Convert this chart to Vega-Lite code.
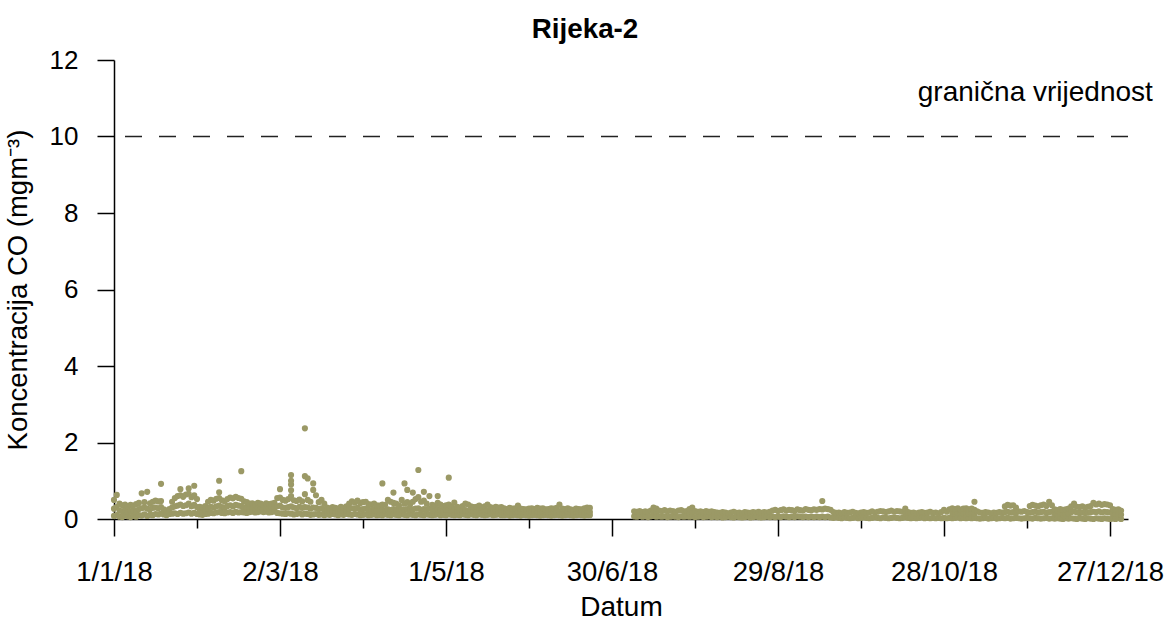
{
"$schema":"https://vega.github.io/schema/vega-lite/v6.json",
"width":1014,"height":459,
"autosize":{"type":"none"},
"padding":{"left":114,"top":60,"right":40,"bottom":104},
"background":"white",
"title":{"text":"Rijeka-2","font":"Liberation Sans","fontSize":27.8,"fontWeight":"bold","color":"black","anchor":"middle","frame":"group","dx":-36,"baseline":"alphabetic","offset":-19},
"config":{"view":{"stroke":null},"font":"Liberation Sans"},
"layer":[
{"data":{"values":[{"v":10}]},
 "mark":{"type":"rule","color":"#222222","strokeWidth":1.6,"strokeDash":[17,17]},
 "encoding":{"y":{"field":"v","type":"quantitative"}}},
{"data":{"values":[{"d":"2018-11-30","v":11.15,"label":"granična vrijednost"}]},
 "mark":{"type":"text","font":"Liberation Sans","fontSize":28,"color":"black","align":"center","baseline":"middle"},
 "encoding":{"x":{"field":"d","type":"temporal"},"y":{"field":"v","type":"quantitative"},"text":{"field":"label"}}},
{"data":{"values":[
{"d":"2018-01-01","v":0.08},{"d":"2018-01-01","v":0.27},{"d":"2018-01-01","v":0.50},
{"d":"2018-01-02","v":0.10},{"d":"2018-01-02","v":0.32},{"d":"2018-01-02","v":0.63},
{"d":"2018-01-03","v":0.06},{"d":"2018-01-03","v":0.22},{"d":"2018-01-03","v":0.40},
{"d":"2018-01-04","v":0.05},{"d":"2018-01-04","v":0.20},{"d":"2018-01-04","v":0.36},
{"d":"2018-01-05","v":0.09},{"d":"2018-01-05","v":0.24},{"d":"2018-01-05","v":0.38},
{"d":"2018-01-06","v":0.07},{"d":"2018-01-06","v":0.19},{"d":"2018-01-06","v":0.33},
{"d":"2018-01-07","v":0.05},{"d":"2018-01-07","v":0.21},{"d":"2018-01-07","v":0.37},
{"d":"2018-01-08","v":0.08},{"d":"2018-01-08","v":0.23},{"d":"2018-01-08","v":0.35},
{"d":"2018-01-09","v":0.06},{"d":"2018-01-09","v":0.18},{"d":"2018-01-09","v":0.39},
{"d":"2018-01-10","v":0.10},{"d":"2018-01-10","v":0.26},{"d":"2018-01-10","v":0.42},
{"d":"2018-01-11","v":0.09},{"d":"2018-01-11","v":0.28},{"d":"2018-01-11","v":0.67},
{"d":"2018-01-12","v":0.12},{"d":"2018-01-12","v":0.30},{"d":"2018-01-12","v":0.44},
{"d":"2018-01-13","v":0.08},{"d":"2018-01-13","v":0.27},{"d":"2018-01-13","v":0.71},
{"d":"2018-01-14","v":0.11},{"d":"2018-01-14","v":0.25},{"d":"2018-01-14","v":0.41},
{"d":"2018-01-15","v":0.10},{"d":"2018-01-15","v":0.29},{"d":"2018-01-15","v":0.45},
{"d":"2018-01-16","v":0.13},{"d":"2018-01-16","v":0.30},{"d":"2018-01-16","v":0.48},
{"d":"2018-01-17","v":0.12},{"d":"2018-01-17","v":0.28},{"d":"2018-01-17","v":0.46},
{"d":"2018-01-18","v":0.14},{"d":"2018-01-18","v":0.31},{"d":"2018-01-18","v":0.47},{"d":"2018-01-18","v":0.92},
{"d":"2018-01-19","v":0.12},{"d":"2018-01-19","v":0.25},
{"d":"2018-01-20","v":0.10},{"d":"2018-01-20","v":0.22},
{"d":"2018-01-21","v":0.13},{"d":"2018-01-21","v":0.26},
{"d":"2018-01-22","v":0.14},{"d":"2018-01-22","v":0.30},{"d":"2018-01-22","v":0.45},
{"d":"2018-01-23","v":0.15},{"d":"2018-01-23","v":0.33},{"d":"2018-01-23","v":0.55},
{"d":"2018-01-24","v":0.13},{"d":"2018-01-24","v":0.35},{"d":"2018-01-24","v":0.60},
{"d":"2018-01-25","v":0.16},{"d":"2018-01-25","v":0.38},{"d":"2018-01-25","v":0.62},{"d":"2018-01-25","v":0.78},
{"d":"2018-01-26","v":0.14},{"d":"2018-01-26","v":0.34},{"d":"2018-01-26","v":0.58},
{"d":"2018-01-27","v":0.15},{"d":"2018-01-27","v":0.36},{"d":"2018-01-27","v":0.64},
{"d":"2018-01-28","v":0.17},{"d":"2018-01-28","v":0.40},{"d":"2018-01-28","v":0.66},{"d":"2018-01-28","v":0.80},
{"d":"2018-01-29","v":0.14},{"d":"2018-01-29","v":0.33},{"d":"2018-01-29","v":0.57},
{"d":"2018-01-30","v":0.16},{"d":"2018-01-30","v":0.37},{"d":"2018-01-30","v":0.62},{"d":"2018-01-30","v":0.87},
{"d":"2018-01-31","v":0.13},{"d":"2018-01-31","v":0.31},{"d":"2018-01-31","v":0.52},
{"d":"2018-02-01","v":0.12},{"d":"2018-02-01","v":0.22},{"d":"2018-02-01","v":0.32},
{"d":"2018-02-02","v":0.11},{"d":"2018-02-02","v":0.20},{"d":"2018-02-02","v":0.30},
{"d":"2018-02-03","v":0.13},{"d":"2018-02-03","v":0.23},{"d":"2018-02-03","v":0.34},
{"d":"2018-02-04","v":0.14},{"d":"2018-02-04","v":0.28},{"d":"2018-02-04","v":0.45},
{"d":"2018-02-05","v":0.16},{"d":"2018-02-05","v":0.32},{"d":"2018-02-05","v":0.50},
{"d":"2018-02-06","v":0.15},{"d":"2018-02-06","v":0.30},{"d":"2018-02-06","v":0.48},
{"d":"2018-02-07","v":0.17},{"d":"2018-02-07","v":0.33},{"d":"2018-02-07","v":0.53},
{"d":"2018-02-08","v":0.18},{"d":"2018-02-08","v":0.35},{"d":"2018-02-08","v":0.55},{"d":"2018-02-08","v":0.70},{"d":"2018-02-08","v":1.00},
{"d":"2018-02-09","v":0.16},{"d":"2018-02-09","v":0.31},{"d":"2018-02-09","v":0.49},
{"d":"2018-02-10","v":0.15},{"d":"2018-02-10","v":0.29},{"d":"2018-02-10","v":0.46},
{"d":"2018-02-11","v":0.17},{"d":"2018-02-11","v":0.34},{"d":"2018-02-11","v":0.52},
{"d":"2018-02-12","v":0.18},{"d":"2018-02-12","v":0.36},{"d":"2018-02-12","v":0.56},
{"d":"2018-02-13","v":0.16},{"d":"2018-02-13","v":0.33},{"d":"2018-02-13","v":0.54},
{"d":"2018-02-14","v":0.19},{"d":"2018-02-14","v":0.37},{"d":"2018-02-14","v":0.58},
{"d":"2018-02-15","v":0.17},{"d":"2018-02-15","v":0.35},{"d":"2018-02-15","v":0.55},
{"d":"2018-02-16","v":0.18},{"d":"2018-02-16","v":0.34},{"d":"2018-02-16","v":0.53},{"d":"2018-02-16","v":1.25},
{"d":"2018-02-17","v":0.17},{"d":"2018-02-17","v":0.30},{"d":"2018-02-17","v":0.46},
{"d":"2018-02-18","v":0.16},{"d":"2018-02-18","v":0.29},{"d":"2018-02-18","v":0.44},
{"d":"2018-02-19","v":0.18},{"d":"2018-02-19","v":0.28},{"d":"2018-02-19","v":0.40},
{"d":"2018-02-20","v":0.19},{"d":"2018-02-20","v":0.30},{"d":"2018-02-20","v":0.41},
{"d":"2018-02-21","v":0.17},{"d":"2018-02-21","v":0.28},{"d":"2018-02-21","v":0.38},
{"d":"2018-02-22","v":0.18},{"d":"2018-02-22","v":0.29},{"d":"2018-02-22","v":0.42},
{"d":"2018-02-23","v":0.20},{"d":"2018-02-23","v":0.31},{"d":"2018-02-23","v":0.40},
{"d":"2018-02-24","v":0.18},{"d":"2018-02-24","v":0.27},{"d":"2018-02-24","v":0.37},
{"d":"2018-02-25","v":0.19},{"d":"2018-02-25","v":0.30},{"d":"2018-02-25","v":0.41},
{"d":"2018-02-26","v":0.17},{"d":"2018-02-26","v":0.28},{"d":"2018-02-26","v":0.39},
{"d":"2018-02-27","v":0.18},{"d":"2018-02-27","v":0.29},{"d":"2018-02-27","v":0.40},
{"d":"2018-02-28","v":0.20},{"d":"2018-02-28","v":0.31},{"d":"2018-02-28","v":0.42},
{"d":"2018-03-01","v":0.16},{"d":"2018-03-01","v":0.33},{"d":"2018-03-01","v":0.55},
{"d":"2018-03-02","v":0.15},{"d":"2018-03-02","v":0.35},{"d":"2018-03-02","v":0.56},{"d":"2018-03-02","v":0.78},
{"d":"2018-03-03","v":0.14},{"d":"2018-03-03","v":0.30},{"d":"2018-03-03","v":0.50},
{"d":"2018-03-04","v":0.13},{"d":"2018-03-04","v":0.29},{"d":"2018-03-04","v":0.48},
{"d":"2018-03-05","v":0.15},{"d":"2018-03-05","v":0.31},{"d":"2018-03-05","v":0.52},
{"d":"2018-03-06","v":0.14},{"d":"2018-03-06","v":0.33},{"d":"2018-03-06","v":0.60},{"d":"2018-03-06","v":0.75},{"d":"2018-03-06","v":0.90},{"d":"2018-03-06","v":1.00},{"d":"2018-03-06","v":1.15},
{"d":"2018-03-07","v":0.12},{"d":"2018-03-07","v":0.30},{"d":"2018-03-07","v":0.49},
{"d":"2018-03-08","v":0.13},{"d":"2018-03-08","v":0.28},{"d":"2018-03-08","v":0.47},
{"d":"2018-03-09","v":0.15},{"d":"2018-03-09","v":0.32},{"d":"2018-03-09","v":0.51},
{"d":"2018-03-10","v":0.12},{"d":"2018-03-10","v":0.29},{"d":"2018-03-10","v":0.46},
{"d":"2018-03-11","v":0.14},{"d":"2018-03-11","v":0.31},{"d":"2018-03-11","v":0.65},{"d":"2018-03-11","v":1.12},{"d":"2018-03-11","v":2.37},
{"d":"2018-03-12","v":0.13},{"d":"2018-03-12","v":0.30},{"d":"2018-03-12","v":0.50},{"d":"2018-03-12","v":1.06},
{"d":"2018-03-13","v":0.11},{"d":"2018-03-13","v":0.27},{"d":"2018-03-13","v":0.45},
{"d":"2018-03-14","v":0.12},{"d":"2018-03-14","v":0.30},{"d":"2018-03-14","v":0.76},{"d":"2018-03-14","v":0.93},
{"d":"2018-03-15","v":0.13},{"d":"2018-03-15","v":0.29},{"d":"2018-03-15","v":0.62},
{"d":"2018-03-16","v":0.11},{"d":"2018-03-16","v":0.26},{"d":"2018-03-16","v":0.44},
{"d":"2018-03-17","v":0.12},{"d":"2018-03-17","v":0.28},{"d":"2018-03-17","v":0.50},
{"d":"2018-03-18","v":0.10},{"d":"2018-03-18","v":0.24},{"d":"2018-03-18","v":0.40},
{"d":"2018-03-19","v":0.12},{"d":"2018-03-19","v":0.21},{"d":"2018-03-19","v":0.30},
{"d":"2018-03-20","v":0.11},{"d":"2018-03-20","v":0.20},{"d":"2018-03-20","v":0.28},
{"d":"2018-03-21","v":0.13},{"d":"2018-03-21","v":0.22},{"d":"2018-03-21","v":0.31},
{"d":"2018-03-22","v":0.12},{"d":"2018-03-22","v":0.21},{"d":"2018-03-22","v":0.29},
{"d":"2018-03-23","v":0.10},{"d":"2018-03-23","v":0.19},{"d":"2018-03-23","v":0.27},
{"d":"2018-03-24","v":0.12},{"d":"2018-03-24","v":0.22},{"d":"2018-03-24","v":0.32},
{"d":"2018-03-25","v":0.11},{"d":"2018-03-25","v":0.20},{"d":"2018-03-25","v":0.29},
{"d":"2018-03-26","v":0.13},{"d":"2018-03-26","v":0.23},{"d":"2018-03-26","v":0.33},
{"d":"2018-03-27","v":0.12},{"d":"2018-03-27","v":0.26},{"d":"2018-03-27","v":0.40},
{"d":"2018-03-28","v":0.11},{"d":"2018-03-28","v":0.28},{"d":"2018-03-28","v":0.46},
{"d":"2018-03-29","v":0.13},{"d":"2018-03-29","v":0.27},{"d":"2018-03-29","v":0.43},
{"d":"2018-03-30","v":0.12},{"d":"2018-03-30","v":0.29},{"d":"2018-03-30","v":0.48},
{"d":"2018-03-31","v":0.10},{"d":"2018-03-31","v":0.25},{"d":"2018-03-31","v":0.42},
{"d":"2018-04-01","v":0.11},{"d":"2018-04-01","v":0.26},{"d":"2018-04-01","v":0.44},
{"d":"2018-04-02","v":0.12},{"d":"2018-04-02","v":0.27},{"d":"2018-04-02","v":0.45},
{"d":"2018-04-03","v":0.10},{"d":"2018-04-03","v":0.24},{"d":"2018-04-03","v":0.39},
{"d":"2018-04-04","v":0.11},{"d":"2018-04-04","v":0.23},{"d":"2018-04-04","v":0.38},
{"d":"2018-04-05","v":0.12},{"d":"2018-04-05","v":0.25},{"d":"2018-04-05","v":0.40},
{"d":"2018-04-06","v":0.10},{"d":"2018-04-06","v":0.22},{"d":"2018-04-06","v":0.36},
{"d":"2018-04-07","v":0.11},{"d":"2018-04-07","v":0.23},{"d":"2018-04-07","v":0.35},
{"d":"2018-04-08","v":0.10},{"d":"2018-04-08","v":0.24},{"d":"2018-04-08","v":0.38},{"d":"2018-04-08","v":0.93},
{"d":"2018-04-09","v":0.12},{"d":"2018-04-09","v":0.22},{"d":"2018-04-09","v":0.37},
{"d":"2018-04-10","v":0.11},{"d":"2018-04-10","v":0.25},{"d":"2018-04-10","v":0.50},
{"d":"2018-04-11","v":0.10},{"d":"2018-04-11","v":0.23},{"d":"2018-04-11","v":0.45},
{"d":"2018-04-12","v":0.12},{"d":"2018-04-12","v":0.26},{"d":"2018-04-12","v":0.42},{"d":"2018-04-12","v":0.69},
{"d":"2018-04-13","v":0.11},{"d":"2018-04-13","v":0.24},{"d":"2018-04-13","v":0.40},
{"d":"2018-04-14","v":0.10},{"d":"2018-04-14","v":0.22},{"d":"2018-04-14","v":0.36},
{"d":"2018-04-15","v":0.12},{"d":"2018-04-15","v":0.25},{"d":"2018-04-15","v":0.50},
{"d":"2018-04-16","v":0.11},{"d":"2018-04-16","v":0.24},{"d":"2018-04-16","v":0.40},{"d":"2018-04-16","v":0.93},
{"d":"2018-04-17","v":0.10},{"d":"2018-04-17","v":0.26},{"d":"2018-04-17","v":0.44},{"d":"2018-04-17","v":0.76},
{"d":"2018-04-18","v":0.12},{"d":"2018-04-18","v":0.23},{"d":"2018-04-18","v":0.38},
{"d":"2018-04-19","v":0.11},{"d":"2018-04-19","v":0.25},{"d":"2018-04-19","v":0.45},{"d":"2018-04-19","v":0.69},
{"d":"2018-04-20","v":0.10},{"d":"2018-04-20","v":0.27},{"d":"2018-04-20","v":0.52},
{"d":"2018-04-21","v":0.12},{"d":"2018-04-21","v":0.28},{"d":"2018-04-21","v":0.57},{"d":"2018-04-21","v":1.28},
{"d":"2018-04-22","v":0.11},{"d":"2018-04-22","v":0.24},{"d":"2018-04-22","v":0.45},
{"d":"2018-04-23","v":0.10},{"d":"2018-04-23","v":0.26},{"d":"2018-04-23","v":0.48},{"d":"2018-04-23","v":0.71},
{"d":"2018-04-24","v":0.12},{"d":"2018-04-24","v":0.25},{"d":"2018-04-24","v":0.40},
{"d":"2018-04-25","v":0.11},{"d":"2018-04-25","v":0.27},{"d":"2018-04-25","v":0.60},
{"d":"2018-04-26","v":0.10},{"d":"2018-04-26","v":0.23},{"d":"2018-04-26","v":0.37},
{"d":"2018-04-27","v":0.11},{"d":"2018-04-27","v":0.22},{"d":"2018-04-27","v":0.35},
{"d":"2018-04-28","v":0.12},{"d":"2018-04-28","v":0.26},{"d":"2018-04-28","v":0.42},{"d":"2018-04-28","v":0.60},
{"d":"2018-04-29","v":0.10},{"d":"2018-04-29","v":0.23},{"d":"2018-04-29","v":0.38},
{"d":"2018-04-30","v":0.11},{"d":"2018-04-30","v":0.22},{"d":"2018-04-30","v":0.34},
{"d":"2018-05-01","v":0.10},{"d":"2018-05-01","v":0.24},{"d":"2018-05-01","v":0.36},
{"d":"2018-05-02","v":0.12},{"d":"2018-05-02","v":0.25},{"d":"2018-05-02","v":0.38},{"d":"2018-05-02","v":1.08},
{"d":"2018-05-03","v":0.11},{"d":"2018-05-03","v":0.22},{"d":"2018-05-03","v":0.33},
{"d":"2018-05-04","v":0.10},{"d":"2018-05-04","v":0.24},{"d":"2018-05-04","v":0.43},
{"d":"2018-05-05","v":0.11},{"d":"2018-05-05","v":0.21},{"d":"2018-05-05","v":0.32},
{"d":"2018-05-06","v":0.10},{"d":"2018-05-06","v":0.20},{"d":"2018-05-06","v":0.30},
{"d":"2018-05-07","v":0.12},{"d":"2018-05-07","v":0.22},{"d":"2018-05-07","v":0.34},
{"d":"2018-05-08","v":0.11},{"d":"2018-05-08","v":0.23},{"d":"2018-05-08","v":0.40},
{"d":"2018-05-09","v":0.10},{"d":"2018-05-09","v":0.21},{"d":"2018-05-09","v":0.38},
{"d":"2018-05-10","v":0.12},{"d":"2018-05-10","v":0.22},{"d":"2018-05-10","v":0.33},
{"d":"2018-05-11","v":0.11},{"d":"2018-05-11","v":0.20},{"d":"2018-05-11","v":0.31},
{"d":"2018-05-12","v":0.10},{"d":"2018-05-12","v":0.21},{"d":"2018-05-12","v":0.32},
{"d":"2018-05-13","v":0.12},{"d":"2018-05-13","v":0.23},{"d":"2018-05-13","v":0.35},
{"d":"2018-05-14","v":0.11},{"d":"2018-05-14","v":0.21},{"d":"2018-05-14","v":0.30},
{"d":"2018-05-15","v":0.10},{"d":"2018-05-15","v":0.20},{"d":"2018-05-15","v":0.33},
{"d":"2018-05-16","v":0.11},{"d":"2018-05-16","v":0.22},{"d":"2018-05-16","v":0.38},
{"d":"2018-05-17","v":0.12},{"d":"2018-05-17","v":0.21},{"d":"2018-05-17","v":0.31},
{"d":"2018-05-18","v":0.10},{"d":"2018-05-18","v":0.20},{"d":"2018-05-18","v":0.29},
{"d":"2018-05-19","v":0.11},{"d":"2018-05-19","v":0.22},{"d":"2018-05-19","v":0.32},
{"d":"2018-05-20","v":0.12},{"d":"2018-05-20","v":0.21},{"d":"2018-05-20","v":0.30},
{"d":"2018-05-21","v":0.10},{"d":"2018-05-21","v":0.20},{"d":"2018-05-21","v":0.31},
{"d":"2018-05-22","v":0.10},{"d":"2018-05-22","v":0.19},{"d":"2018-05-22","v":0.28},
{"d":"2018-05-23","v":0.11},{"d":"2018-05-23","v":0.18},{"d":"2018-05-23","v":0.26},
{"d":"2018-05-24","v":0.09},{"d":"2018-05-24","v":0.19},{"d":"2018-05-24","v":0.29},
{"d":"2018-05-25","v":0.10},{"d":"2018-05-25","v":0.18},{"d":"2018-05-25","v":0.27},
{"d":"2018-05-26","v":0.11},{"d":"2018-05-26","v":0.20},{"d":"2018-05-26","v":0.28},
{"d":"2018-05-27","v":0.10},{"d":"2018-05-27","v":0.19},{"d":"2018-05-27","v":0.35},
{"d":"2018-05-28","v":0.09},{"d":"2018-05-28","v":0.18},{"d":"2018-05-28","v":0.27},
{"d":"2018-05-29","v":0.11},{"d":"2018-05-29","v":0.19},{"d":"2018-05-29","v":0.26},
{"d":"2018-05-30","v":0.10},{"d":"2018-05-30","v":0.18},{"d":"2018-05-30","v":0.25},
{"d":"2018-05-31","v":0.09},{"d":"2018-05-31","v":0.17},{"d":"2018-05-31","v":0.27},
{"d":"2018-06-01","v":0.10},{"d":"2018-06-01","v":0.19},{"d":"2018-06-01","v":0.28},
{"d":"2018-06-02","v":0.11},{"d":"2018-06-02","v":0.18},{"d":"2018-06-02","v":0.26},
{"d":"2018-06-03","v":0.10},{"d":"2018-06-03","v":0.20},{"d":"2018-06-03","v":0.29},
{"d":"2018-06-04","v":0.09},{"d":"2018-06-04","v":0.18},{"d":"2018-06-04","v":0.27},
{"d":"2018-06-05","v":0.10},{"d":"2018-06-05","v":0.19},{"d":"2018-06-05","v":0.28},
{"d":"2018-06-06","v":0.11},{"d":"2018-06-06","v":0.18},{"d":"2018-06-06","v":0.25},
{"d":"2018-06-07","v":0.10},{"d":"2018-06-07","v":0.17},{"d":"2018-06-07","v":0.26},
{"d":"2018-06-08","v":0.09},{"d":"2018-06-08","v":0.19},{"d":"2018-06-08","v":0.28},
{"d":"2018-06-09","v":0.10},{"d":"2018-06-09","v":0.18},{"d":"2018-06-09","v":0.27},
{"d":"2018-06-10","v":0.11},{"d":"2018-06-10","v":0.20},{"d":"2018-06-10","v":0.29},
{"d":"2018-06-11","v":0.10},{"d":"2018-06-11","v":0.19},{"d":"2018-06-11","v":0.38},
{"d":"2018-06-12","v":0.09},{"d":"2018-06-12","v":0.18},{"d":"2018-06-12","v":0.27},
{"d":"2018-06-13","v":0.10},{"d":"2018-06-13","v":0.17},{"d":"2018-06-13","v":0.26},
{"d":"2018-06-14","v":0.11},{"d":"2018-06-14","v":0.19},{"d":"2018-06-14","v":0.28},
{"d":"2018-06-15","v":0.10},{"d":"2018-06-15","v":0.18},{"d":"2018-06-15","v":0.25},
{"d":"2018-06-16","v":0.09},{"d":"2018-06-16","v":0.17},{"d":"2018-06-16","v":0.24},
{"d":"2018-06-17","v":0.10},{"d":"2018-06-17","v":0.19},{"d":"2018-06-17","v":0.27},
{"d":"2018-06-18","v":0.11},{"d":"2018-06-18","v":0.18},{"d":"2018-06-18","v":0.26},
{"d":"2018-06-19","v":0.10},{"d":"2018-06-19","v":0.17},{"d":"2018-06-19","v":0.25},
{"d":"2018-06-20","v":0.09},{"d":"2018-06-20","v":0.19},{"d":"2018-06-20","v":0.28},
{"d":"2018-06-21","v":0.10},{"d":"2018-06-21","v":0.20},{"d":"2018-06-21","v":0.30},
{"d":"2018-06-22","v":0.10},{"d":"2018-06-22","v":0.18},{"d":"2018-06-22","v":0.29},
{"d":"2018-07-08","v":0.07},{"d":"2018-07-08","v":0.20},
{"d":"2018-07-09","v":0.06},{"d":"2018-07-09","v":0.19},
{"d":"2018-07-10","v":0.08},{"d":"2018-07-10","v":0.21},
{"d":"2018-07-11","v":0.06},{"d":"2018-07-11","v":0.18},
{"d":"2018-07-12","v":0.07},{"d":"2018-07-12","v":0.20},
{"d":"2018-07-13","v":0.05},{"d":"2018-07-13","v":0.19},
{"d":"2018-07-14","v":0.07},{"d":"2018-07-14","v":0.22},
{"d":"2018-07-15","v":0.08},{"d":"2018-07-15","v":0.18},{"d":"2018-07-15","v":0.30},
{"d":"2018-07-16","v":0.06},{"d":"2018-07-16","v":0.17},{"d":"2018-07-16","v":0.27},
{"d":"2018-07-17","v":0.07},{"d":"2018-07-17","v":0.22},
{"d":"2018-07-18","v":0.06},{"d":"2018-07-18","v":0.21},
{"d":"2018-07-19","v":0.07},{"d":"2018-07-19","v":0.23},
{"d":"2018-07-20","v":0.05},{"d":"2018-07-20","v":0.20},
{"d":"2018-07-21","v":0.06},{"d":"2018-07-21","v":0.22},
{"d":"2018-07-22","v":0.07},{"d":"2018-07-22","v":0.21},
{"d":"2018-07-23","v":0.06},{"d":"2018-07-23","v":0.19},
{"d":"2018-07-24","v":0.05},{"d":"2018-07-24","v":0.22},
{"d":"2018-07-25","v":0.07},{"d":"2018-07-25","v":0.23},
{"d":"2018-07-26","v":0.06},{"d":"2018-07-26","v":0.20},
{"d":"2018-07-27","v":0.07},{"d":"2018-07-27","v":0.21},
{"d":"2018-07-28","v":0.06},{"d":"2018-07-28","v":0.16},{"d":"2018-07-28","v":0.26},
{"d":"2018-07-29","v":0.07},{"d":"2018-07-29","v":0.18},{"d":"2018-07-29","v":0.30},
{"d":"2018-07-30","v":0.05},{"d":"2018-07-30","v":0.21},
{"d":"2018-07-31","v":0.06},{"d":"2018-07-31","v":0.19},
{"d":"2018-08-01","v":0.07},{"d":"2018-08-01","v":0.20},
{"d":"2018-08-02","v":0.05},{"d":"2018-08-02","v":0.18},
{"d":"2018-08-03","v":0.06},{"d":"2018-08-03","v":0.21},
{"d":"2018-08-04","v":0.07},{"d":"2018-08-04","v":0.19},
{"d":"2018-08-05","v":0.05},{"d":"2018-08-05","v":0.20},
{"d":"2018-08-06","v":0.06},{"d":"2018-08-06","v":0.18},
{"d":"2018-08-07","v":0.05},{"d":"2018-08-07","v":0.17},
{"d":"2018-08-08","v":0.06},{"d":"2018-08-08","v":0.16},
{"d":"2018-08-09","v":0.04},{"d":"2018-08-09","v":0.18},
{"d":"2018-08-10","v":0.05},{"d":"2018-08-10","v":0.17},
{"d":"2018-08-11","v":0.06},{"d":"2018-08-11","v":0.15},
{"d":"2018-08-12","v":0.05},{"d":"2018-08-12","v":0.17},
{"d":"2018-08-13","v":0.04},{"d":"2018-08-13","v":0.19},
{"d":"2018-08-14","v":0.06},{"d":"2018-08-14","v":0.16},
{"d":"2018-08-15","v":0.05},{"d":"2018-08-15","v":0.17},
{"d":"2018-08-16","v":0.04},{"d":"2018-08-16","v":0.15},
{"d":"2018-08-17","v":0.05},{"d":"2018-08-17","v":0.18},
{"d":"2018-08-18","v":0.06},{"d":"2018-08-18","v":0.17},
{"d":"2018-08-19","v":0.04},{"d":"2018-08-19","v":0.16},
{"d":"2018-08-20","v":0.05},{"d":"2018-08-20","v":0.18},
{"d":"2018-08-21","v":0.06},{"d":"2018-08-21","v":0.17},
{"d":"2018-08-22","v":0.05},{"d":"2018-08-22","v":0.19},
{"d":"2018-08-23","v":0.04},{"d":"2018-08-23","v":0.16},
{"d":"2018-08-24","v":0.05},{"d":"2018-08-24","v":0.18},
{"d":"2018-08-25","v":0.06},{"d":"2018-08-25","v":0.17},
{"d":"2018-08-26","v":0.05},{"d":"2018-08-26","v":0.19},
{"d":"2018-08-27","v":0.06},{"d":"2018-08-27","v":0.22},
{"d":"2018-08-28","v":0.05},{"d":"2018-08-28","v":0.24},
{"d":"2018-08-29","v":0.06},{"d":"2018-08-29","v":0.21},
{"d":"2018-08-30","v":0.05},{"d":"2018-08-30","v":0.23},
{"d":"2018-08-31","v":0.07},{"d":"2018-08-31","v":0.25},
{"d":"2018-09-01","v":0.06},{"d":"2018-09-01","v":0.22},
{"d":"2018-09-02","v":0.05},{"d":"2018-09-02","v":0.24},
{"d":"2018-09-03","v":0.06},{"d":"2018-09-03","v":0.23},
{"d":"2018-09-04","v":0.05},{"d":"2018-09-04","v":0.21},
{"d":"2018-09-05","v":0.07},{"d":"2018-09-05","v":0.25},
{"d":"2018-09-06","v":0.06},{"d":"2018-09-06","v":0.23},
{"d":"2018-09-07","v":0.05},{"d":"2018-09-07","v":0.22},
{"d":"2018-09-08","v":0.06},{"d":"2018-09-08","v":0.26},
{"d":"2018-09-09","v":0.05},{"d":"2018-09-09","v":0.24},
{"d":"2018-09-10","v":0.06},{"d":"2018-09-10","v":0.23},
{"d":"2018-09-11","v":0.05},{"d":"2018-09-11","v":0.25},
{"d":"2018-09-12","v":0.06},{"d":"2018-09-12","v":0.24},
{"d":"2018-09-13","v":0.05},{"d":"2018-09-13","v":0.26},
{"d":"2018-09-14","v":0.06},{"d":"2018-09-14","v":0.25},{"d":"2018-09-14","v":0.47},
{"d":"2018-09-15","v":0.05},{"d":"2018-09-15","v":0.27},
{"d":"2018-09-16","v":0.06},{"d":"2018-09-16","v":0.26},
{"d":"2018-09-17","v":0.04},{"d":"2018-09-17","v":0.24},
{"d":"2018-09-18","v":0.03},{"d":"2018-09-18","v":0.18},
{"d":"2018-09-19","v":0.04},{"d":"2018-09-19","v":0.16},
{"d":"2018-09-20","v":0.03},{"d":"2018-09-20","v":0.17},
{"d":"2018-09-21","v":0.02},{"d":"2018-09-21","v":0.15},
{"d":"2018-09-22","v":0.04},{"d":"2018-09-22","v":0.18},
{"d":"2018-09-23","v":0.03},{"d":"2018-09-23","v":0.16},
{"d":"2018-09-24","v":0.02},{"d":"2018-09-24","v":0.17},
{"d":"2018-09-25","v":0.03},{"d":"2018-09-25","v":0.19},
{"d":"2018-09-26","v":0.04},{"d":"2018-09-26","v":0.16},
{"d":"2018-09-27","v":0.02},{"d":"2018-09-27","v":0.15},
{"d":"2018-09-28","v":0.03},{"d":"2018-09-28","v":0.17},
{"d":"2018-09-29","v":0.04},{"d":"2018-09-29","v":0.18},
{"d":"2018-09-30","v":0.03},{"d":"2018-09-30","v":0.16},
{"d":"2018-10-01","v":0.02},{"d":"2018-10-01","v":0.17},
{"d":"2018-10-02","v":0.03},{"d":"2018-10-02","v":0.20},
{"d":"2018-10-03","v":0.04},{"d":"2018-10-03","v":0.17},
{"d":"2018-10-04","v":0.03},{"d":"2018-10-04","v":0.19},
{"d":"2018-10-05","v":0.02},{"d":"2018-10-05","v":0.21},
{"d":"2018-10-06","v":0.04},{"d":"2018-10-06","v":0.20},
{"d":"2018-10-07","v":0.03},{"d":"2018-10-07","v":0.18},
{"d":"2018-10-08","v":0.02},{"d":"2018-10-08","v":0.20},
{"d":"2018-10-09","v":0.03},{"d":"2018-10-09","v":0.22},
{"d":"2018-10-10","v":0.04},{"d":"2018-10-10","v":0.19},
{"d":"2018-10-11","v":0.03},{"d":"2018-10-11","v":0.21},
{"d":"2018-10-12","v":0.02},{"d":"2018-10-12","v":0.20},
{"d":"2018-10-13","v":0.03},{"d":"2018-10-13","v":0.19},
{"d":"2018-10-14","v":0.04},{"d":"2018-10-14","v":0.15},{"d":"2018-10-14","v":0.27},
{"d":"2018-10-15","v":0.03},{"d":"2018-10-15","v":0.18},
{"d":"2018-10-16","v":0.02},{"d":"2018-10-16","v":0.16},
{"d":"2018-10-17","v":0.03},{"d":"2018-10-17","v":0.17},
{"d":"2018-10-18","v":0.02},{"d":"2018-10-18","v":0.15},
{"d":"2018-10-19","v":0.03},{"d":"2018-10-19","v":0.17},
{"d":"2018-10-20","v":0.04},{"d":"2018-10-20","v":0.18},
{"d":"2018-10-21","v":0.02},{"d":"2018-10-21","v":0.16},
{"d":"2018-10-22","v":0.03},{"d":"2018-10-22","v":0.17},
{"d":"2018-10-23","v":0.02},{"d":"2018-10-23","v":0.19},
{"d":"2018-10-24","v":0.03},{"d":"2018-10-24","v":0.16},
{"d":"2018-10-25","v":0.02},{"d":"2018-10-25","v":0.17},
{"d":"2018-10-26","v":0.03},{"d":"2018-10-26","v":0.15},
{"d":"2018-10-27","v":0.02},{"d":"2018-10-27","v":0.18},
{"d":"2018-10-28","v":0.03},{"d":"2018-10-28","v":0.24},
{"d":"2018-10-29","v":0.02},{"d":"2018-10-29","v":0.19},
{"d":"2018-10-30","v":0.03},{"d":"2018-10-30","v":0.25},
{"d":"2018-10-31","v":0.02},{"d":"2018-10-31","v":0.15},{"d":"2018-10-31","v":0.28},
{"d":"2018-11-01","v":0.03},{"d":"2018-11-01","v":0.14},{"d":"2018-11-01","v":0.26},
{"d":"2018-11-02","v":0.04},{"d":"2018-11-02","v":0.16},{"d":"2018-11-02","v":0.28},
{"d":"2018-11-03","v":0.02},{"d":"2018-11-03","v":0.13},{"d":"2018-11-03","v":0.24},
{"d":"2018-11-04","v":0.03},{"d":"2018-11-04","v":0.15},{"d":"2018-11-04","v":0.27},
{"d":"2018-11-05","v":0.02},{"d":"2018-11-05","v":0.16},{"d":"2018-11-05","v":0.28},
{"d":"2018-11-06","v":0.03},{"d":"2018-11-06","v":0.14},{"d":"2018-11-06","v":0.25},
{"d":"2018-11-07","v":0.02},{"d":"2018-11-07","v":0.15},{"d":"2018-11-07","v":0.27},
{"d":"2018-11-08","v":0.03},{"d":"2018-11-08","v":0.14},{"d":"2018-11-08","v":0.24},{"d":"2018-11-08","v":0.45},
{"d":"2018-11-09","v":0.02},{"d":"2018-11-09","v":0.20},
{"d":"2018-11-10","v":0.01},{"d":"2018-11-10","v":0.17},
{"d":"2018-11-11","v":0.02},{"d":"2018-11-11","v":0.16},
{"d":"2018-11-12","v":0.03},{"d":"2018-11-12","v":0.18},
{"d":"2018-11-13","v":0.01},{"d":"2018-11-13","v":0.17},
{"d":"2018-11-14","v":0.02},{"d":"2018-11-14","v":0.15},
{"d":"2018-11-15","v":0.03},{"d":"2018-11-15","v":0.17},
{"d":"2018-11-16","v":0.01},{"d":"2018-11-16","v":0.16},
{"d":"2018-11-17","v":0.02},{"d":"2018-11-17","v":0.18},
{"d":"2018-11-18","v":0.03},{"d":"2018-11-18","v":0.17},
{"d":"2018-11-19","v":0.02},{"d":"2018-11-19","v":0.18},{"d":"2018-11-19","v":0.33},
{"d":"2018-11-20","v":0.03},{"d":"2018-11-20","v":0.19},{"d":"2018-11-20","v":0.37},
{"d":"2018-11-21","v":0.01},{"d":"2018-11-21","v":0.17},{"d":"2018-11-21","v":0.35},
{"d":"2018-11-22","v":0.02},{"d":"2018-11-22","v":0.18},{"d":"2018-11-22","v":0.36},
{"d":"2018-11-23","v":0.03},{"d":"2018-11-23","v":0.16},{"d":"2018-11-23","v":0.30},
{"d":"2018-11-24","v":0.02},{"d":"2018-11-24","v":0.20},
{"d":"2018-11-25","v":0.01},{"d":"2018-11-25","v":0.19},
{"d":"2018-11-26","v":0.02},{"d":"2018-11-26","v":0.21},
{"d":"2018-11-27","v":0.03},{"d":"2018-11-27","v":0.18},
{"d":"2018-11-28","v":0.02},{"d":"2018-11-28","v":0.17},{"d":"2018-11-28","v":0.34},
{"d":"2018-11-29","v":0.01},{"d":"2018-11-29","v":0.18},{"d":"2018-11-29","v":0.37},
{"d":"2018-11-30","v":0.03},{"d":"2018-11-30","v":0.19},{"d":"2018-11-30","v":0.35},
{"d":"2018-12-01","v":0.02},{"d":"2018-12-01","v":0.17},{"d":"2018-12-01","v":0.33},
{"d":"2018-12-02","v":0.01},{"d":"2018-12-02","v":0.18},{"d":"2018-12-02","v":0.36},
{"d":"2018-12-03","v":0.02},{"d":"2018-12-03","v":0.19},{"d":"2018-12-03","v":0.38},
{"d":"2018-12-04","v":0.03},{"d":"2018-12-04","v":0.17},{"d":"2018-12-04","v":0.34},
{"d":"2018-12-05","v":0.01},{"d":"2018-12-05","v":0.18},{"d":"2018-12-05","v":0.45},
{"d":"2018-12-06","v":0.02},{"d":"2018-12-06","v":0.19},{"d":"2018-12-06","v":0.36},
{"d":"2018-12-07","v":0.01},{"d":"2018-12-07","v":0.14},{"d":"2018-12-07","v":0.25},
{"d":"2018-12-08","v":0.02},{"d":"2018-12-08","v":0.13},{"d":"2018-12-08","v":0.23},
{"d":"2018-12-09","v":0.01},{"d":"2018-12-09","v":0.14},{"d":"2018-12-09","v":0.26},
{"d":"2018-12-10","v":0.00},{"d":"2018-12-10","v":0.12},{"d":"2018-12-10","v":0.24},
{"d":"2018-12-11","v":0.02},{"d":"2018-12-11","v":0.13},{"d":"2018-12-11","v":0.25},
{"d":"2018-12-12","v":0.01},{"d":"2018-12-12","v":0.14},{"d":"2018-12-12","v":0.27},
{"d":"2018-12-13","v":0.02},{"d":"2018-12-13","v":0.18},{"d":"2018-12-13","v":0.33},
{"d":"2018-12-14","v":0.01},{"d":"2018-12-14","v":0.20},{"d":"2018-12-14","v":0.40},
{"d":"2018-12-15","v":0.00},{"d":"2018-12-15","v":0.17},{"d":"2018-12-15","v":0.32},
{"d":"2018-12-16","v":0.02},{"d":"2018-12-16","v":0.16},{"d":"2018-12-16","v":0.31},
{"d":"2018-12-17","v":0.01},{"d":"2018-12-17","v":0.17},{"d":"2018-12-17","v":0.33},
{"d":"2018-12-18","v":0.00},{"d":"2018-12-18","v":0.16},{"d":"2018-12-18","v":0.30},
{"d":"2018-12-19","v":0.02},{"d":"2018-12-19","v":0.17},{"d":"2018-12-19","v":0.32},
{"d":"2018-12-20","v":0.01},{"d":"2018-12-20","v":0.18},{"d":"2018-12-20","v":0.34},
{"d":"2018-12-21","v":0.00},{"d":"2018-12-21","v":0.19},{"d":"2018-12-21","v":0.42},
{"d":"2018-12-22","v":0.02},{"d":"2018-12-22","v":0.18},{"d":"2018-12-22","v":0.38},
{"d":"2018-12-23","v":0.01},{"d":"2018-12-23","v":0.20},{"d":"2018-12-23","v":0.40},
{"d":"2018-12-24","v":0.00},{"d":"2018-12-24","v":0.17},{"d":"2018-12-24","v":0.37},
{"d":"2018-12-25","v":0.02},{"d":"2018-12-25","v":0.19},{"d":"2018-12-25","v":0.39},
{"d":"2018-12-26","v":0.01},{"d":"2018-12-26","v":0.18},{"d":"2018-12-26","v":0.38},
{"d":"2018-12-27","v":0.00},{"d":"2018-12-27","v":0.17},{"d":"2018-12-27","v":0.36},
{"d":"2018-12-28","v":0.01},{"d":"2018-12-28","v":0.14},{"d":"2018-12-28","v":0.26},
{"d":"2018-12-29","v":0.00},{"d":"2018-12-29","v":0.13},{"d":"2018-12-29","v":0.24},
{"d":"2018-12-30","v":0.02},{"d":"2018-12-30","v":0.12},{"d":"2018-12-30","v":0.25},
{"d":"2018-12-31","v":0.00},{"d":"2018-12-31","v":0.11},{"d":"2018-12-31","v":0.22}
]},
 "mark":{"type":"circle","size":38,"opacity":1,"color":"#9b9966"},
 "encoding":{
  "x":{"field":"d","type":"temporal",
   "scale":{"type":"utc","domain":[{"year":2018,"month":1,"date":1,"utc":true},{"year":2019,"month":1,"date":2,"hours":12,"utc":true}]},
   "axis":{"title":"Datum","values":[
     {"year":2018,"month":1,"date":1,"utc":true},{"year":2018,"month":1,"date":31,"utc":true},
     {"year":2018,"month":3,"date":2,"utc":true},{"year":2018,"month":4,"date":1,"utc":true},
     {"year":2018,"month":5,"date":1,"utc":true},{"year":2018,"month":5,"date":31,"utc":true},
     {"year":2018,"month":6,"date":30,"utc":true},{"year":2018,"month":7,"date":30,"utc":true},
     {"year":2018,"month":8,"date":29,"utc":true},{"year":2018,"month":9,"date":28,"utc":true},
     {"year":2018,"month":10,"date":28,"utc":true},{"year":2018,"month":11,"date":27,"utc":true},
     {"year":2018,"month":12,"date":27,"utc":true}],
    "labelExpr":"round((datum.value - utc(2018,0,1))/86400000) % 60 == 30 ? '' : utcFormat(datum.value, '%-d/%-m/%y')",
    "tickSize":{"condition":{"test":"round((datum.value - utc(2018,0,1))/86400000) % 60 == 30","value":9},"value":17},
    "grid":false,"labelOverlap":false,"labelFlush":false,"labelFont":"Liberation Sans","labelFontSize":27.5,"labelColor":"black","labelPadding":22,
    "titleFont":"Liberation Sans","titleFontSize":28,"titleFontWeight":"normal","titleColor":"black","titlePadding":8,
    "domainColor":"black","domainWidth":1.5,"tickColor":"black","tickWidth":1.5}},
  "y":{"field":"v","type":"quantitative",
   "scale":{"domain":[0,12],"nice":false,"zero":true},
   "axis":{"title":"Koncentracija CO (mgm⁻³)","values":[0,1,2,3,4,5,6,7,8,9,10,11,12],
    "labelExpr":"datum.value % 2 == 1 ? '' : datum.label",
    "tickSize":{"condition":{"test":"datum.value % 2 == 1","value":9},"value":17},
    "grid":false,"labelOverlap":false,"labelFlush":false,"labelFont":"Liberation Sans","labelFontSize":26,"labelColor":"black","labelPadding":19,
    "titleFont":"Liberation Sans","titleFontSize":27.5,"titleFontWeight":"normal","titleColor":"black","titlePadding":17,
    "domainColor":"black","domainWidth":1.5,"tickColor":"black","tickWidth":1.5}}
 }}
]
}
